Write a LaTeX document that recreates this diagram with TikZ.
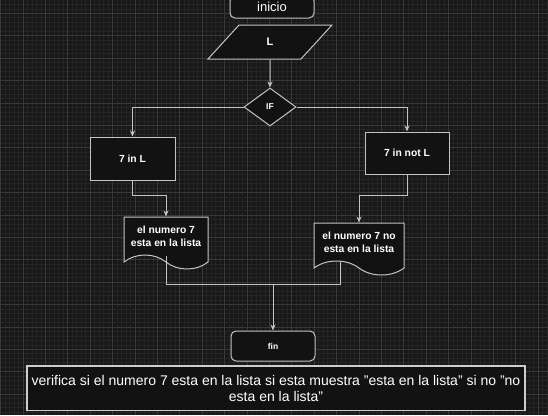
\documentclass[tikz,border=0pt]{standalone}
\usepackage{fontspec}
\setmainfont{Liberation Sans}
\usepackage{tikz}
\usetikzlibrary{shapes.geometric,shapes.symbols,arrows.meta,calc}
\definecolor{myfondo}{RGB}{24,24,24}
\definecolor{mymenor}{RGB}{36,36,36}
\definecolor{mymayor}{RGB}{56,56,56}
\definecolor{mycaja}{RGB}{18,18,18}
\definecolor{mygris}{RGB}{196,196,196}

\begin{document}
\begin{tikzpicture}[
  x=1pt, y=-1pt,
  linea/.style={draw=mygris, line width=1pt},
  flecha/.style={
    linea,
    -{Stealth[length=6pt,width=5pt]}
    },
  caja/.style={
    draw=mygris,
    line width=1pt,
    fill=mycaja,
    text=white,
    align=center,
    inner sep=0pt,
    font=\bfseries\fontsize{10.3}{13}\selectfont
    },
  terminal/.style={
    caja,
    rounded corners=5pt,
    minimum width=84pt,
    minimum height=#1
    },
  proceso/.style={
    caja,
    minimum width=85pt,
    minimum height=43pt
    },
  documento/.style={
    caja,
    tape,
    tape bend top=none,
    tape bend bottom=out and in,
    tape bend height=14pt,
    minimum width=#1,
    minimum height=52pt
    }
]

% fondo y rejilla
\clip (0,0) rectangle (548,415);
\fill[myfondo] (0,0) rectangle (548,415);
\foreach \i in {0,...,122}
  \draw[mymenor, line width=0.8pt] (0.6+\i*4.48,0) -- ++(0,415);
\foreach \j in {0,...,93}
  \draw[mymenor, line width=0.8pt] (0,4.44+\j*4.48) -- ++(548,0);
\foreach \i in {0,...,24}
  \draw[mymayor, line width=0.8pt] (0.6+\i*22.4,0) -- ++(0,415);
\foreach \j in {0,...,18}
  \draw[mymayor, line width=0.8pt] (0,13.4+\j*22.4) -- ++(548,0);

% nodos
\node[terminal=22pt, font=\fontsize{13}{15}\selectfont]
  (inicio) at (272,7) {inicio};
\node[caja, trapezium, trapezium left angle=66, trapezium right angle=114,
  trapezium stretches=true, minimum width=124pt, minimum height=34pt,
  font=\bfseries\fontsize{11}{13}\selectfont]
  (lee) at (270,42) {L};
\node[caja, diamond, minimum width=52pt, minimum height=38pt,
  font=\bfseries\fontsize{8.5}{10}\selectfont]
  (cond) at (270,107) {IF};
\node[proceso] (si) at (132.5,158.5) {7 in L};
\node[proceso, minimum width=84pt, minimum height=42pt] (no) at (407,153) {7 in not L};
\node[documento=84pt] (dsi) at (166,236) {el numero 7\\esta en la lista};
\node[documento=90pt] (dno) at (359,242) {el numero 7 no\\esta en la lista};
\node[terminal=30pt, font=\bfseries\fontsize{8.5}{10}\selectfont]
  (fin) at (273,346) {fin};
\node[caja, draw=mygris!85, line width=1.5pt, minimum width=498pt, minimum height=44.5pt,
  font=\fontsize{14}{15.5}\selectfont]
  (nota) at (276,388.3)
  {verifica si el numero 7 esta en la lista si esta muestra "esta en la lista" si no "no\\esta en la lista"};
\coordinate (junta) at (273,284);

% conectores
\draw[flecha] (lee) -- (cond);
\draw[flecha] (cond.west) -| (si.north);
\draw[flecha] (cond.east) -| (no.north);
\draw[flecha] (si.south) -- ++(0,15) -| (dsi.north);
\draw[flecha] (no.south) -- ++(0,21) -| (dno.north);
\draw[linea] (dsi.south) |- (junta);
\draw[linea] ([xshift=-19pt]dno.south) |- (junta);
\draw[flecha] (junta) -- (fin);

\end{tikzpicture}
\end{document}
